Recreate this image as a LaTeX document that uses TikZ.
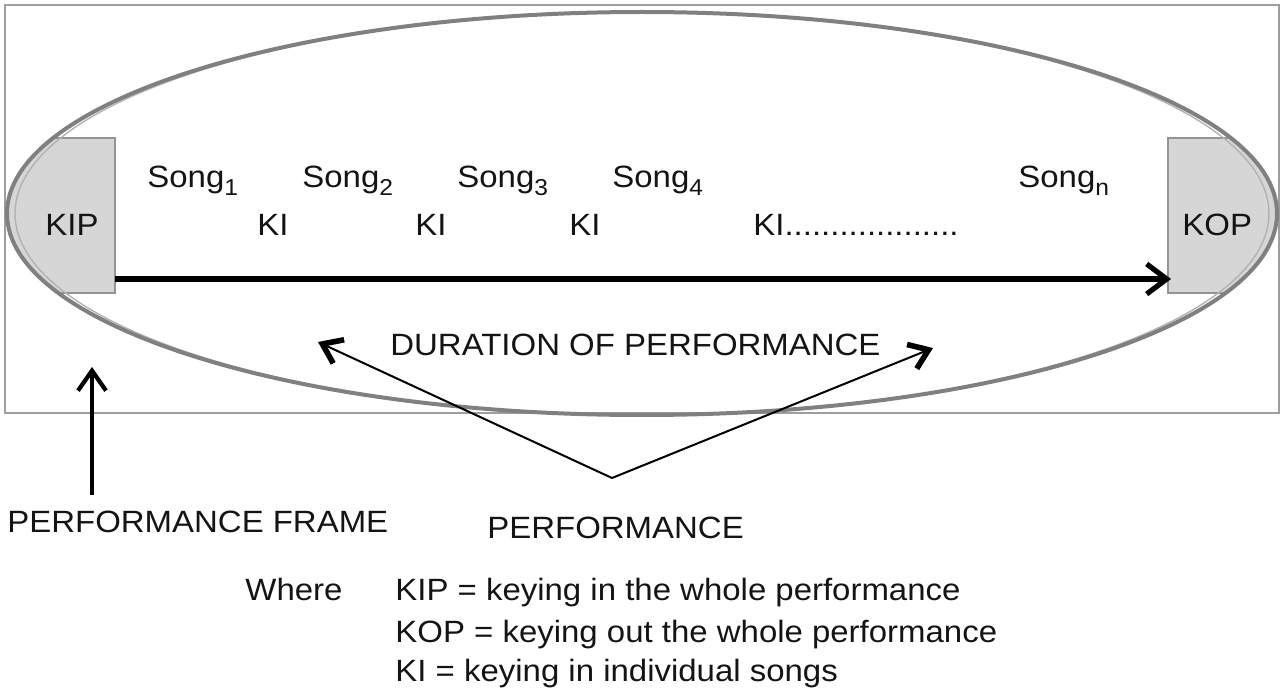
\documentclass[tikz,border=0pt]{standalone}
\usepackage{fontspec}
\setmainfont{Liberation Sans}[FakeStretch=1.07]
\usetikzlibrary{arrows.meta}
\newcommand\sbs[1]{\raisebox{-3.8pt}{\fontsize{11.5}{11.5}\selectfont #1}}
\begin{document}
\begin{tikzpicture}[x=0.5pt,y=-0.5pt,
  lbl/.style={anchor=base west,inner sep=0pt,font=\fontsize{15.4}{18}\selectfont,text=black!92},
  framebox/.style={draw=black!38,line width=1pt},
  perf/.style={draw=black!50,line width=2pt},
  perfshadow/.style={draw=black!30,line width=0.7pt},
  keybox/.style={draw=black!42,fill=black!16,line width=0.6pt},
  mainarrow/.style={line width=2.6pt,-{Straight Barb[length=10pt,width=15pt]}},
  framearrow/.style={line width=2.1pt,-{Straight Barb[length=10pt,width=14pt]}},
  thinarrow/.style={line width=1pt,-{Straight Barb[length=9pt,width=13pt,line width=2.8pt]}}
]
\useasboundingbox (0,0) rectangle (1287,690);
% performance frame
\draw[framebox] (5,5) rectangle (1279,413);
% key boxes, clipped to the ellipse
\begin{scope}
  \clip (642,213.5) ellipse [x radius=635, y radius=201.5];
  \draw[keybox] (-10,138) rectangle (115,293);
  \draw[keybox] (1168,138) rectangle (1300,293);
\end{scope}
% performance ellipse
\draw[perfshadow] (642,213.5) ellipse [x radius=627, y radius=201.5];
\draw[perf] (642,213.5) ellipse [x radius=635, y radius=201.5];
% box labels
\node[lbl] (kip) at (45,235) {KIP};
\node[lbl] (kop) at (1182,235) {KOP};
% songs
\node[lbl] (s1) at (147,188) {Song\sbs{1}};
\node[lbl] (s2) at (302,188) {Song\sbs{2}};
\node[lbl] (s3) at (457,188) {Song\sbs{3}};
\node[lbl] (s4) at (612,188) {Song\sbs{4}};
\node[lbl] (sn) at (1018,188) {Song\sbs{n}};
% keying in
\node[lbl] (k1) at (257,235) {KI};
\node[lbl] (k2) at (415,235) {KI};
\node[lbl] (k3) at (569,235) {KI};
\node[lbl] (k4) at (753,235) {KI...................};
% duration arrow
\coordinate (kipE) at (115,279);
\coordinate (kopW) at (1171,279);
\draw[mainarrow] (kipE) -- (kopW);
% duration label
\node[lbl] (dur) at (390,356) {DURATION OF PERFORMANCE};
% performance arrows
\coordinate (vtx) at (612,478);
\coordinate (dl) at (318,342);
\coordinate (dr) at (933,348);
\draw[thinarrow] (vtx) -- (dl);
\draw[thinarrow] (vtx) -- (dr);
\node[lbl] (perfl) at (487,538) {PERFORMANCE};
% frame arrow
\coordinate (fa) at (92,495);
\coordinate (fb) at (92,367);
\draw[framearrow] (fa) -- (fb);
\node[lbl] (framel) at (7,532) {PERFORMANCE FRAME};
% legend
\node[lbl] (where) at (245,600) {Where};
\node[lbl] (l1) at (395,600) {KIP = keying in the whole performance};
\node[lbl] (l2) at (395,642) {KOP = keying out the whole performance};
\node[lbl] (l3) at (395,681) {KI = keying in individual songs};
\end{tikzpicture}
\end{document}
